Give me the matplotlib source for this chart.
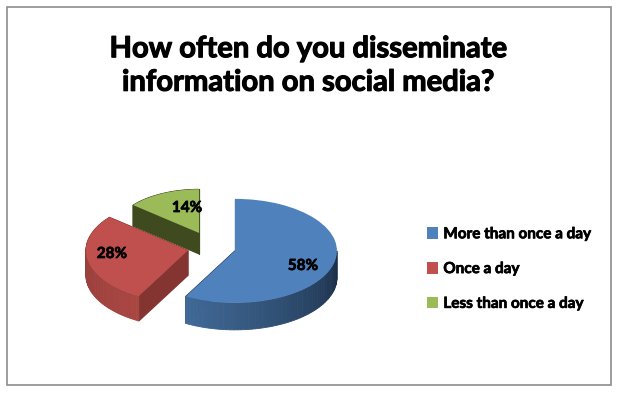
import numpy as np
import matplotlib
matplotlib.use("Agg")
import matplotlib.pyplot as plt
import matplotlib.patheffects as pe
from matplotlib.colors import to_rgb
from matplotlib.patches import Rectangle

# Input
title = "How often do you disseminate\ninformation on social media?"
categories = ["More than once a day", "Once a day", "Less than once a day"]
values = [58, 28, 14]
top_colors = ["#4F81BD", "#C0504D", "#9BBB59"]
wall_colors = ["#1F3A5C", "#843531", "#3F4A1E"]
rim_start = ["#416A98", "#8C3A36", "#3F4A1E"]
rim_end = ["#1B2F48", "#A94642", "#3F4A1E"]
explode = [0.222, 0.25, 0.32]
radii = [1, 1, 0.84]  # back slice looks smaller in the perspective
depths = [27, 25, 21]  # pixels
label_pos = [(303, 266), (112, 254), (187, 208)]  # pixels

W, H = 618, 393
CX, CY = 213, 248  # pie centre in pixels
RX, RY = 102, 52  # pixels per radius


def main():
    plt.rcParams["font.family"] = ["Lato", "DejaVu Sans"]
    fig = plt.figure(figsize=(W / 100, H / 100), dpi=100, facecolor="white")
    heavy = [pe.withStroke(linewidth=0.5, foreground="black")]

    # chart border
    fig.add_artist(Rectangle((7 / W, 1 - 385 / H), 604 / W, 378 / H, transform=fig.transFigure,
                             facecolor="white", edgecolor="#8C8C8C", linewidth=1.2, zorder=-1))

    ax = fig.add_axes([0, 0, 1, 1])
    wedges, _ = ax.pie(values, startangle=90, counterclock=False, radius=1,
                       explode=explode, colors=top_colors,
                       wedgeprops={"linewidth": 0})
    ax.set_aspect("auto")
    ax.set_xlim(-CX / RX, (W - CX) / RX)
    ax.set_ylim((CY - H) / RY, CY / RY)
    ax.patch.set_alpha(0)

    # extrude each slice, back slices first
    for i, w in enumerate(wedges):
        z = 3 * (3 - i) if i else 12
        w.set_zorder(z + 2)
        w.set_radius(radii[i])
        d = depths[i] / RY
        cx, cy = w.center
        r = radii[i]

        # walls
        for th in (w.theta1, w.theta2):
            ex = cx + r * np.cos(np.radians(th))
            ey = cy + r * np.sin(np.radians(th))
            ax.fill([cx, ex, ex, cx], [cy, ey, ey - d, cy - d], color=wall_colors[i],
                    linewidth=0.8, zorder=z)

        # outer rim, front half only
        t1, t2 = w.theta1, min(w.theta2, 0)
        if t2 > t1:
            edges = np.linspace(t1, t2, 60)
            c0, c1 = np.array(to_rgb(rim_start[i])), np.array(to_rgb(rim_end[i]))
            for k in range(len(edges) - 1):
                a = np.radians(edges[k:k + 2])
                xs = cx + r * np.cos(a)
                ys = cy + r * np.sin(a)
                col = c0 + (c1 - c0) * k / (len(edges) - 2)
                ax.fill([xs[0], xs[1], xs[1], xs[0]], [ys[0], ys[1], ys[1] - d, ys[0] - d],
                        facecolor=col, edgecolor=col, linewidth=0.6, zorder=z + 1)

    # percent labels
    for v, (x, y) in zip(values, label_pos):
        fig.text(x / W, 1 - y / H, f"{v}%", ha="center", va="center", fontsize=11,
                 fontweight="bold", color="black", zorder=20, path_effects=heavy)

    fig.text(308 / W, 1 - 66 / H, title, ha="center", va="center", fontsize=21,
             fontweight="bold", color="black", linespacing=1.36,
             path_effects=[pe.withStroke(linewidth=0.8, foreground="black")])

    leg = ax.legend(wedges, categories, loc="center left", bbox_to_anchor=(427 / W, 1 - 269 / H),
                    bbox_transform=fig.transFigure, frameon=False, handlelength=0.72, handleheight=0.8,
                    handletextpad=0.35, labelspacing=1.35, borderpad=0, borderaxespad=0,
                    prop={"family": "Lato", "weight": "bold", "size": 11})
    for t in leg.get_texts():
        t.set_path_effects(heavy)

    fig.savefig("out.png", dpi=100)


if __name__ == "__main__":
    main()
